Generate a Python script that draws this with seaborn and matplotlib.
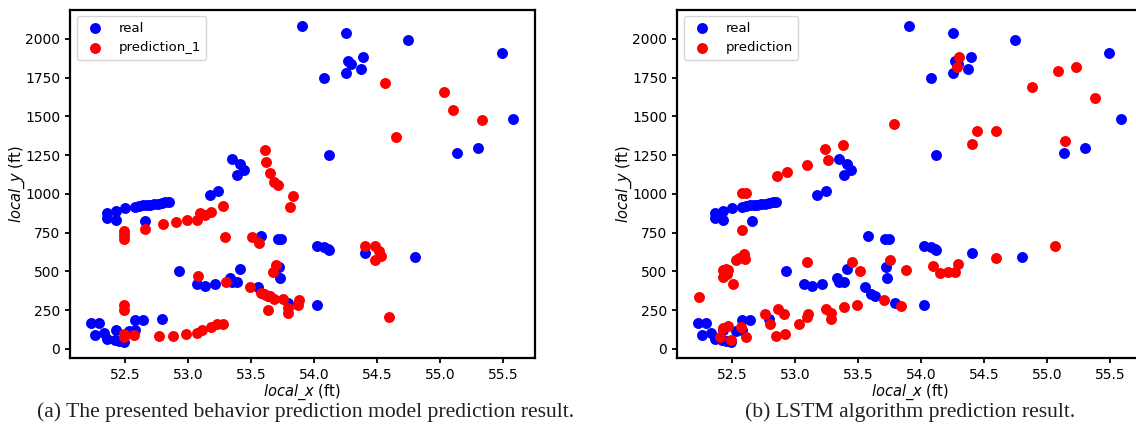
import numpy as np
import pandas as pd
import seaborn as sns
import matplotlib.pyplot as plt

# real trajectory points (same in both panels)
real_x = [53.905, 54.25, 54.74, 55.49, 55.58, 54.27, 54.29, 54.39, 54.37, 54.25,
          54.08, 54.115, 55.13, 55.30, 53.35, 53.41, 53.44, 53.39, 53.17, 53.24,
          52.36, 52.36, 52.43, 52.43, 52.50, 52.58, 52.61, 52.64, 52.67, 52.70,
          52.73, 52.76, 52.79, 52.82, 52.85, 52.66,
          52.93, 53.07, 53.13, 53.21, 53.33, 53.35, 53.39, 53.41, 53.58, 53.71,
          53.74, 53.72, 53.73, 53.55, 53.60, 53.63, 53.79, 54.02, 54.08, 54.11,
          54.12, 54.40, 54.80, 54.02,
          52.23, 52.29, 52.26, 52.33, 52.36, 52.42, 52.43, 52.45, 52.49, 52.53,
          52.58, 52.58, 52.64, 52.79]
real_y = [2085, 2035, 1992, 1910, 1480, 1854, 1838, 1880, 1805, 1779,
          1749, 1251, 1266, 1298, 1227, 1193, 1154, 1121, 992, 1020,
          874, 846, 831, 891, 906, 917, 922, 925, 928, 930,
          933, 937, 940, 944, 950, 824,
          503, 421, 406, 421, 458, 432, 432, 518, 729, 708,
          706, 525, 454, 400, 352, 340, 296, 663, 655, 645,
          637, 619, 593, 281,
          169, 169, 87, 105, 66, 55, 120, 50, 44, 115,
          120, 184, 184, 191]

# prediction of the presented model
pred1_x = [54.56, 55.03, 55.10, 55.33, 54.65, 53.606, 53.62, 53.65, 53.68, 53.71,
           53.83, 53.81,
           52.49, 52.49, 52.49, 52.66, 52.80, 52.90, 52.99, 53.07, 53.09, 53.13,
           53.18, 53.28, 53.29, 53.51, 53.56,
           53.08, 53.30, 53.49, 53.58, 53.62, 53.65, 53.68, 53.75, 53.88, 53.67,
           53.70, 53.63, 53.79, 53.79, 53.87, 54.40, 54.48, 54.51, 54.53, 54.48,
           54.59,
           52.49, 52.49, 52.49, 52.49, 52.57, 52.77, 52.88, 52.98, 53.07, 53.11,
           53.18, 53.23, 53.28]
pred1_y = [1716, 1658, 1542, 1479, 1369, 1283, 1206, 1132, 1078, 1057,
           986, 913,
           759, 735, 708, 770, 803, 815, 830, 830, 878, 863,
           880, 923, 723, 723, 680,
           469, 432, 400, 361, 350, 340, 324, 324, 313, 497,
           540, 249, 266, 232, 281, 665, 663, 630, 600, 572,
           206,
           281, 248, 94, 75, 92, 83, 83, 94, 105, 123,
           141, 158, 158]

# LSTM prediction
pred2_x = [54.30, 54.28, 54.88, 55.08, 55.23, 55.38, 53.78, 54.44, 54.59, 54.40,
           55.14, 53.234, 53.377, 53.26, 53.094, 52.935, 52.856, 52.58, 52.61, 52.58,
           52.43, 52.45, 52.47, 52.43, 52.46, 52.51, 52.53, 52.55, 52.59, 52.60,
           52.24, 52.40, 52.43, 52.47, 52.49, 52.57, 52.61, 52.76, 52.80, 52.86,
           52.91, 52.85, 52.92, 53.03, 53.09, 53.10, 53.09, 53.24, 53.28, 53.28,
           53.39, 53.45, 53.51, 53.49, 53.75, 53.88, 53.70, 53.84, 54.09, 54.15,
           54.21, 54.27, 54.29, 54.59, 55.06]
pred2_y = [1880, 1820, 1690, 1790, 1820, 1620, 1449, 1408, 1408, 1322,
           1343, 1288, 1313, 1218, 1186, 1143, 1117, 1003, 1003, 766,
           507, 515, 507, 464, 485, 421, 572, 588, 614, 578,
           333, 76, 137, 150, 55, 141, 76, 222, 162, 254,
           222, 83, 99, 162, 205, 222, 560, 254, 232, 190,
           270, 557, 503, 281, 572, 507, 318, 277, 536, 490,
           495, 497, 550, 583, 663]

real = pd.DataFrame({'x': real_x, 'y': real_y})
p1 = pd.DataFrame({'x': pred1_x, 'y': pred1_y})
p2 = pd.DataFrame({'x': pred2_x, 'y': pred2_y})

fig = plt.figure(figsize=(11.36, 4.24), dpi=100)
ax1 = fig.add_axes([0.0616, 0.156, 0.409, 0.821])
ax2 = fig.add_axes([0.596, 0.156, 0.409, 0.821])


def panel(ax, pred, pred_label):
    sns.scatterplot(data=real, x='x', y='y', ax=ax, color='blue', s=62,
                    linewidth=0, label='real')
    sns.scatterplot(data=pred, x='x', y='y', ax=ax, color='red', s=62,
                    linewidth=0, label=pred_label)
    ax.set_xticks([52.5, 53.0, 53.5, 54.0, 54.5, 55.0, 55.5])
    ax.set_yticks([0, 250, 500, 750, 1000, 1250, 1500, 1750, 2000])
    ax.set_xlabel(r'$\mathit{local\_x}$ (ft)', fontsize=10.5, labelpad=1)
    ax.set_ylabel(r'$\mathit{local\_y}$ (ft)', fontsize=10.5, labelpad=-1)
    ax.tick_params(labelsize=10, width=1.3)
    for sp in ax.spines.values():
        sp.set_linewidth(1.6)
    ax.legend(loc='upper left', fontsize=9.5)


panel(ax1, p1, 'prediction_1')
panel(ax2, p2, 'prediction')

fig.text(0.269, 0.027, '(a) The presented behavior prediction model prediction result.',
         ha='center', va='center', family='Liberation Serif', fontsize=15.6, color='#231f20')
fig.text(0.801, 0.027, '(b) LSTM algorithm prediction result.',
         ha='center', va='center', family='Liberation Serif', fontsize=15.6, color='#231f20')

fig.savefig('out.png', dpi=100)
